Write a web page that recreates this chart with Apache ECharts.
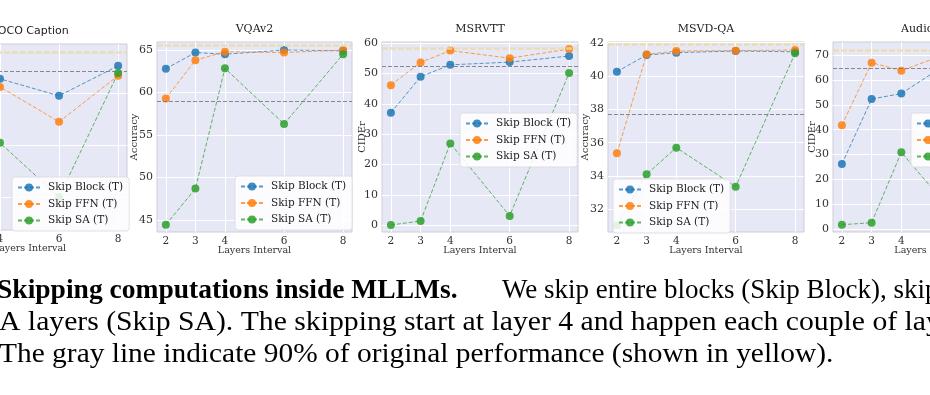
<!DOCTYPE html>
<html>
<head>
<meta charset="utf-8">
<script src="https://cdn.jsdelivr.net/npm/echarts@6/dist/echarts.min.js"></script>
<style>html,body{margin:0;padding:0;background:#fff}#c{width:930px;height:395px}</style>
</head>
<body>
<div id="c"></div>
<script>
// ---------- data ----------
const layersInterval = [2, 3, 4, 6, 8];
const xTickLabels = [2, 3, 4, 6, 8];
const seriesNames = ['Skip Block (T)', 'Skip FFN (T)', 'Skip SA (T)'];
const panelTitles = ['COCO Caption', 'VQAv2', 'MSRVTT', 'MSVD-QA', 'AudioCaps'];
const yAxisNames = ['CIDEr', 'Accuracy', 'CIDEr', 'Accuracy', 'CIDEr'];
const xAxisName = 'Layers Interval';

const cocoBlock = [58.0, 63.5, 65.6, 59.1, 70.6];
const cocoFFN   = [50.0, 60.0, 62.5, 49.1, 66.8];
const cocoSA    = [9.0, 12.0, 41.0, 20.2, 67.9];

const vqaBlock = [62.8, 64.7, 64.5, 65.0, 64.9];
const vqaFFN   = [59.3, 63.8, 64.8, 64.7, 65.0];
const vqaSA    = [44.45, 48.7, 62.85, 56.3, 64.5];

const msrvttBlock = [37.1, 49.0, 52.9, 53.8, 55.8];
const msrvttFFN   = [46.2, 53.7, 57.6, 55.1, 58.1];
const msrvttSA    = [0.1, 1.4, 27.0, 3.1, 50.2];

const msvdBlock = [40.26, 41.26, 41.4, 41.5, 41.45];
const msvdFFN   = [35.37, 41.3, 41.5, 41.52, 41.56];
const msvdSA    = [31.05, 34.1, 35.7, 33.36, 41.36];

const audioBlock = [26.2, 52.3, 54.5, 70.0, 71.0];
const audioFFN   = [41.8, 66.9, 63.7, 72.5, 72.0];
const audioSA    = [1.85, 2.65, 30.9, 3.0, 69.0];

const originalPerf = [76.0, 65.5, 58.4, 41.92, 72.0];
const threshold90  = [68.4, 58.95, 52.56, 37.73, 64.8];

const yTicksCoco   = [20, 40, 60];
const yTicksVqa    = [45, 50, 55, 60, 65];
const yTicksMsrvtt = [0, 10, 20, 30, 40, 50, 60];
const yTicksMsvd   = [32, 34, 36, 38, 40, 42];
const yTicksAudio  = [0, 10, 20, 30, 40, 50, 60, 70];

const captionBold = 'Skipping computations inside MLLMs.';
const captionLine1 = 'We skip entire blocks (Skip Block), skip FFN layers (Skip FFN) and S';
const captionLine2 = 'A layers (Skip SA). The skipping start at layer 4 and happen each couple of layers.';
const captionLine3 = 'The gray line indicate 90% of original performance (shown in yellow).';

// ---------- layout / style ----------
const panelData = [
  [cocoBlock, cocoFFN, cocoSA],
  [vqaBlock, vqaFFN, vqaSA],
  [msrvttBlock, msrvttFFN, msrvttSA],
  [msvdBlock, msvdFFN, msvdSA],
  [audioBlock, audioFFN, audioSA]
];
const yTicks = [yTicksCoco, yTicksVqa, yTicksMsrvtt, yTicksMsvd, yTicksAudio];
const layout = [
  {left: -68, top: 44, width: 195, height: 186, ymin: 7.5, ymax: 79, nameGap: 18, legend: {left: 12, top: 177}, titleFont: '11px "DejaVu Sans"', titleY: 31},
  {left: 157, top: 42, width: 195, height: 190, ymin: 43.6, ymax: 65.94, nameGap: 18, legend: {left: 235, top: 176}, titleFont: '11px "DejaVu Serif"', titleY: 29},
  {left: 382, top: 42, width: 196, height: 190, ymin: -2.21, ymax: 60.43, nameGap: 15, legend: {left: 460, top: 113}, titleFont: '11px "DejaVu Serif"', titleY: 29},
  {left: 608, top: 42, width: 196, height: 190, ymin: 30.64, ymax: 42.04, nameGap: 18, legend: {left: 613, top: 179}, titleFont: '11px "DejaVu Serif"', titleY: 29},
  {left: 833, top: 42, width: 196, height: 190, ymin: -1.08, ymax: 75.2, nameGap: 16, legend: {left: 911, top: 113}, titleFont: '11px "DejaVu Serif"', titleY: 29}
];
const colors = ['#1f77b4', '#ff7f0e', '#2ca02c'];
const serif = 'DejaVu Serif';

const grids = [], xAxes = [], yAxes = [], series = [], legends = [], graphics = [];
layout.forEach((L, p) => {
  grids.push({left: L.left, top: L.top, width: L.width, height: L.height, show: true,
    outerBoundsMode: 'none', containLabel: false,
    backgroundColor: '#E7E8F5', borderColor: '#CDCDD8', borderWidth: 1});
  xAxes.push({type: 'value', gridIndex: p, min: 1.7, max: 8.3,
    name: xAxisName, nameLocation: 'middle', nameGap: 14, nameMoveOverlap: false,
    nameTextStyle: {fontFamily: serif, fontSize: 9.5, color: '#333'},
    axisLine: {show: false}, axisTick: {show: false, customValues: xTickLabels},
    axisLabel: {customValues: xTickLabels, margin: 4, fontFamily: serif, fontSize: 10.5, color: '#333'},
    splitLine: {show: true, lineStyle: {color: '#ffffff', width: 1}}});
  yAxes.push({type: 'value', gridIndex: p, min: L.ymin, max: L.ymax,
    name: yAxisNames[p], nameLocation: 'middle', nameGap: L.nameGap, nameMoveOverlap: false,
    nameTextStyle: {fontFamily: serif, fontSize: 10, color: '#333'},
    axisLine: {show: false}, axisTick: {show: false, customValues: yTicks[p]},
    axisLabel: {customValues: yTicks[p], margin: 4, fontFamily: serif, fontSize: 11, color: '#333'},
    splitLine: {show: true, lineStyle: {color: '#ffffff', width: 1}}});
  panelData[p].forEach((vals, s) => {
    const ser = {type: 'line', name: seriesNames[s], xAxisIndex: p, yAxisIndex: p,
      data: layersInterval.map((x, i) => [x, vals[i]]),
      symbol: 'circle', symbolSize: 8, z: 3 + s,
      lineStyle: {color: colors[s], width: 1, type: [4, 2], opacity: 0.75},
      itemStyle: {color: colors[s], opacity: 0.85},
      emphasis: {disabled: true}, animation: false};
    if (s === 0) {
      ser.markLine = {silent: true, symbol: 'none', label: {show: false}, animation: false,
        data: [
          {yAxis: originalPerf[p], lineStyle: {color: '#EBD9A6', width: 2.5, type: [6, 2], opacity: 0.8}},
          {yAxis: threshold90[p], lineStyle: {color: '#7a7a88', width: 1, type: [4, 2], opacity: 0.9}}
        ]};
    }
    series.push(ser);
  });
  legends.push({left: L.legend.left, top: L.legend.top, orient: 'vertical',
    data: seriesNames, itemWidth: 22, itemHeight: 10, itemGap: 5.5,
    padding: [5, 6, 5, 5], backgroundColor: 'rgba(255,255,255,0.85)',
    borderColor: 'rgba(220,220,228,0.9)', borderWidth: 1, borderRadius: 3,
    selectedMode: false, z: 10,
    textStyle: {fontFamily: serif, fontSize: 10.5, color: '#222', padding: [0, 0, 0, 3]}});
  graphics.push({type: 'text', x: L.left + L.width / 2, y: L.titleY,
    style: {text: panelTitles[p], font: L.titleFont, fill: '#222', align: 'center', verticalAlign: 'middle'}});
});

graphics.push({type: 'text', x: -3, y: 291, scaleX: 1.02,
  style: {text: captionBold, font: 'bold 27px "Liberation Serif"', fill: '#000', align: 'left', verticalAlign: 'middle'}});
graphics.push({type: 'text', x: 502, y: 291, scaleX: 1.0,
  style: {text: captionLine1, font: '27px "Liberation Serif"', fill: '#000', align: 'left', verticalAlign: 'middle'}});
graphics.push({type: 'text', x: -1, y: 323, scaleX: 1.1,
  style: {text: captionLine2, font: '27px "Liberation Serif"', fill: '#000', align: 'left', verticalAlign: 'middle'}});
graphics.push({type: 'text', x: -1, y: 355, scaleX: 1.09,
  style: {text: captionLine3, font: '27px "Liberation Serif"', fill: '#000', align: 'left', verticalAlign: 'middle'}});

const chart = echarts.init(document.getElementById('c'), null, {renderer: 'canvas'});
chart.setOption({
  backgroundColor: '#ffffff',
  animation: false,
  grid: grids, xAxis: xAxes, yAxis: yAxes, series: series, legend: legends,
  graphic: graphics
});
</script>
</body>
</html>
